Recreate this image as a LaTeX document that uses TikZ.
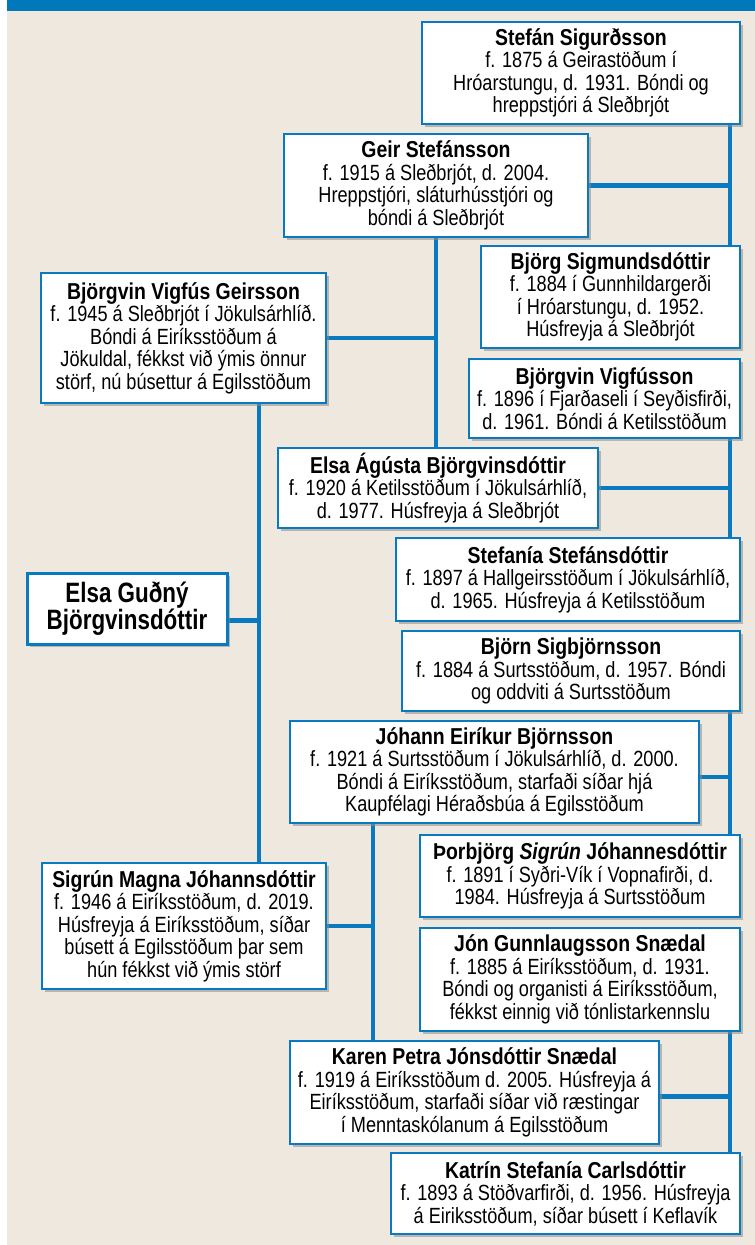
\documentclass[tikz,border=0pt]{standalone}
\usepackage{fontspec}
\setmainfont{Liberation Sans}[FakeStretch=0.825]
\newfontfamily\namefont{Liberation Sans}[FakeStretch=0.845]
\newfontfamily\rootfont{Liberation Sans}[FakeStretch=0.8]
\usetikzlibrary{shadows,calc}
\definecolor{hdrblue}{HTML}{0079BC}
\definecolor{lineblue}{HTML}{0A7AC0}
\definecolor{beige}{HTML}{EFE8DF}
\pgfdeclarelayer{bg}
\pgfsetlayers{bg,main}
\newcommand{\nm}[1]{{\namefont\bfseries\fontsize{23}{22.5}\selectfont #1}}
\tikzset{
  person/.style={rectangle, draw=lineblue, line width=1.4pt, fill=white, inner sep=0pt,
    align=center, font=\fontsize{22}{22.5}\selectfont,
    drop shadow={shadow xshift=3pt, shadow yshift=-3pt, fill=black!45, opacity=0.55}},
  rootperson/.style={person, line width=3pt, font=\rootfont\bfseries\fontsize{28}{27}\selectfont},
  link/.style={draw=lineblue, line width=4.5pt},
}
\begin{document}
\begin{tikzpicture}[x=1pt,y=-1pt]
\useasboundingbox (0,0) rectangle (755,1245);
\begin{pgfonlayer}{bg}
  \fill[white] (0,0) rectangle (755,1245);
  \fill[beige] (7,11) rectangle (755,1245);
  \fill[hdrblue] (7,0) rectangle (755,11);
\end{pgfonlayer}

\coordinate (rx) at (730,0);
\coordinate (mx) at (373,0);
\coordinate (lx) at (259,0);

\node[person, minimum width=318pt, minimum height=102pt] (stefan) at (581,73)
  {\nm{Stefán Sigurðsson}\\ f. 1875 á Geirastöðum í\\ Hróarstungu, d. 1931. Bóndi og\\ hreppstjóri á Sleðbrjót};
\node[person, minimum width=304pt, minimum height=103pt] (geir) at (436,185.5)
  {\nm{Geir Stefánsson}\\ f. 1915 á Sleðbrjót, d. 2004.\\ Hreppstjóri, sláturhússtjóri og\\ bóndi á Sleðbrjót};
\node[person, minimum width=259pt, minimum height=102pt] (bjorg) at (610.5,297)
  {\nm{Björg Sigmundsdóttir}\\ f. 1884 í Gunnhildargerði\\ í Hróarstungu, d. 1952.\\ Húsfreyja á Sleðbrjót};
\node[person, minimum width=285pt, minimum height=130pt] (bvg) at (183.5,338)
  {\nm{Björgvin Vigfús Geirsson}\\ f. 1945 á Sleðbrjót í Jökulsárhlíð.\\ Bóndi á Eiríksstöðum á\\ Jökuldal, fékkst við ýmis önnur\\ störf, nú búsettur á Egilsstöðum};
\node[person, minimum width=271pt, minimum height=79pt] (bv) at (604.5,398.5)
  {\nm{Björgvin Vigfússon}\\ f. 1896 í Fjarðaseli í Seyðisfirði,\\ d. 1961. Bóndi á Ketilsstöðum};
\node[person, minimum width=320pt, minimum height=80pt] (elsaa) at (438,488)
  {\nm{Elsa Ágústa Björgvinsdóttir}\\ f. 1920 á Ketilsstöðum í Jökulsárhlíð,\\ d. 1977. Húsfreyja á Sleðbrjót};
\node[person, minimum width=344pt, minimum height=83pt] (stefania) at (568,579.5)
  {\nm{Stefanía Stefánsdóttir}\\ f. 1897 á Hallgeirsstöðum í Jökulsárhlíð,\\ d. 1965. Húsfreyja á Ketilsstöðum};
\node[rootperson, minimum width=200pt, minimum height=71pt] (elsag) at (127,608.5)
  {Elsa Guðný\\ Björgvinsdóttir};
\node[person, minimum width=338pt, minimum height=80pt] (bjorn) at (571,671)
  {\nm{Björn Sigbjörnsson}\\ f. 1884 á Surtsstöðum, d. 1957. Bóndi\\ og oddviti á Surtsstöðum};
\node[person, minimum width=409pt, minimum height=102pt] (johann) at (494.5,772)
  {\nm{Jóhann Eiríkur Björnsson}\\ f. 1921 á Surtsstöðum í Jökulsárhlíð, d. 2000.\\ Bóndi á Eiríksstöðum, starfaði síðar hjá\\ Kaupfélagi Héraðsbúa á Egilsstöðum};
\node[person, minimum width=320pt, minimum height=82pt] (thorbjorg) at (580,876)
  {\nm{Þorbjörg \textit{Sigrún} Jóhannesdóttir}\\ f. 1891 í Syðri-Vík í Vopnafirði, d.\\ 1984. Húsfreyja á Surtsstöðum};
\node[person, minimum width=284pt, minimum height=126pt] (sigrun) at (184,926)
  {\nm{Sigrún Magna Jóhannsdóttir}\\ f. 1946 á Eiríksstöðum, d. 2019.\\ Húsfreyja á Eiríksstöðum, síðar\\ búsett á Egilsstöðum þar sem\\ hún fékkst við ýmis störf};
\node[person, minimum width=320pt, minimum height=103pt] (jon) at (580,979.5)
  {\nm{Jón Gunnlaugsson Snædal}\\ f. 1885 á Eiríksstöðum, d. 1931.\\ Bóndi og organisti á Eiríksstöðum,\\ fékkst einnig við tónlistarkennslu};
\node[person, minimum width=369pt, minimum height=103pt] (karen) at (474.5,1092.5)
  {\nm{Karen Petra Jónsdóttir Snædal}\\ f. 1919 á Eiríksstöðum d. 2005. Húsfreyja á\\ Eiríksstöðum, starfaði síðar við ræstingar\\ í Menntaskólanum á Egilsstöðum};
\node[person, minimum width=349pt, minimum height=81pt] (katrin) at (565.5,1193.5)
  {\nm{Katrín Stefanía Carlsdóttir}\\ f. 1893 á Stöðvarfirði, d. 1956. Húsfreyja\\ á Eiriksstöðum, síðar búsett í Keflavík};

\begin{pgfonlayer}{bg}
  % right trunk (parent pairs)
  \draw[link] (stefan.south -| rx) -- (bjorg.north -| rx);
  \draw[link] (bv.south -| rx) -- (stefania.north -| rx);
  \draw[link] (bjorn.south -| rx) -- (thorbjorg.north -| rx);
  \draw[link] (jon.south -| rx) -- (katrin.north -| rx);
  \draw[link] (geir.east) -- (geir.east -| rx);
  \draw[link] (elsaa.east) -- (elsaa.east -| rx);
  \draw[link] ([yshift=-5pt]johann.east) -- ([yshift=-5pt]johann.east -| rx);
  \draw[link] ([yshift=-4pt]karen.east) -- ([yshift=-4pt]karen.east -| rx);
  % middle trunks
  \draw[link] (geir.south) -- (geir.south |- elsaa.north);
  \draw[link] (bvg.east) -- (bvg.east -| geir.south);
  \draw[link] (johann.south -| mx) -- (karen.north -| mx);
  \draw[link] (sigrun.east) -- (sigrun.east -| mx);
  % left trunk
  \draw[link] (bvg.south -| lx) -- (sigrun.north -| lx);
  \draw[link] ([yshift=-12pt]elsag.east) -- ([yshift=-12pt]elsag.east -| lx);
\end{pgfonlayer}
\end{tikzpicture}
\end{document}
